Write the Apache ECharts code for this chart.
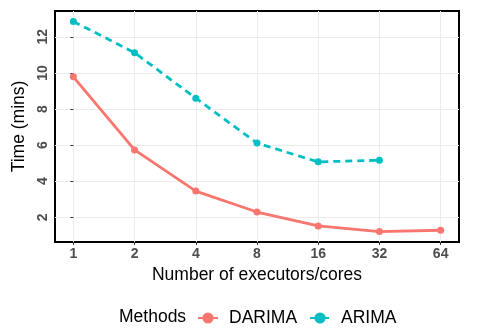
<!DOCTYPE html>
<html>
<head>
<meta charset="utf-8">
<script src="https://cdn.jsdelivr.net/npm/echarts@6/dist/echarts.min.js"></script>
<style>
  html, body { margin: 0; padding: 0; background: #fff; }
  #chart { width: 477px; height: 330px; }
</style>
</head>
<body>
<div id="chart"></div>
<script>
// Executor/core counts (evenly spaced on a doubling scale)
const cores = ["1", "2", "4", "8", "16", "32", "64"];
// Run time in minutes
const darimaTime = [9.78, 5.73, 3.45, 2.29, 1.52, 1.21, 1.28];
const arimaTime = [12.85, 11.12, 8.60, 6.11, 5.07, 5.16];
const yTicks = [2, 4, 6, 8, 10, 12];

const FONT = "Liberation Sans, Arial, sans-serif";
const idx = cores.map((_, i) => i);
const toPairs = arr => arr.map((v, i) => [i, v]);

const chart = echarts.init(document.getElementById('chart'), null, { renderer: 'canvas' });
chart.setOption({
  animation: false,
  backgroundColor: '#ffffff',
  textStyle: { fontFamily: FONT },
  grid: {
    left: 55, right: 18, top: 11, bottom: 88,
    show: true, borderColor: '#000000', borderWidth: 2, backgroundColor: 'transparent'
  },
  title: {
    text: 'Methods', left: 114, top: 303,
    textStyle: { fontFamily: FONT, fontSize: 17.5, fontWeight: 'normal', color: '#000' }
  },
  legend: {
    left: 192, top: 304, itemWidth: 20, itemHeight: 14, itemGap: 12,
    textStyle: { fontFamily: FONT, fontSize: 17.5, color: '#000', padding: [0, 0, 0, 6] },
    data: ['DARIMA', 'ARIMA']
  },
  xAxis: {
    type: 'value', min: -0.3, max: 6.3,
    name: 'Number of executors/cores', nameLocation: 'middle', nameGap: 22,
    nameTextStyle: { fontFamily: FONT, fontSize: 17.5, color: '#000' },
    axisLine: { show: false },
    axisTick: { show: true, length: 3, lineStyle: { color: '#333333' }, customValues: idx },
    axisLabel: {
      customValues: idx, margin: 5,
      formatter: v => cores[Math.round(v)],
      fontFamily: FONT, fontSize: 14, fontWeight: 'bold', color: '#4d4d4d'
    },
    splitLine: { show: true, lineStyle: { color: '#ebebeb', width: 1 } }
  },
  yAxis: {
    type: 'value', min: 0.63, max: 13.43,
    name: 'Time (mins)', nameLocation: 'middle', nameGap: 17, nameRotate: 90,
    nameTextStyle: { fontFamily: FONT, fontSize: 17.5, color: '#000' },
    axisLine: { show: false },
    axisTick: { show: true, length: 3, lineStyle: { color: '#333333' }, customValues: yTicks },
    axisLabel: {
      customValues: yTicks, rotate: 90, margin: 5,
      fontFamily: FONT, fontSize: 14, fontWeight: 'bold', color: '#4d4d4d'
    },
    splitLine: { show: true, lineStyle: { color: '#ebebeb', width: 1 } }
  },
  series: [
    {
      name: 'DARIMA', type: 'line', data: toPairs(darimaTime),
      color: '#F8766D', symbol: 'circle', symbolSize: 7,
      lineStyle: { width: 2.8, color: '#F8766D' },
      itemStyle: { color: '#F8766D' }
    },
    {
      name: 'ARIMA', type: 'line', data: toPairs(arimaTime),
      color: '#00BFC4', symbol: 'circle', symbolSize: 7,
      lineStyle: { width: 2.8, type: [7, 5], color: '#00BFC4' },
      itemStyle: { color: '#00BFC4' }
    }
  ]
});
</script>
</body>
</html>
